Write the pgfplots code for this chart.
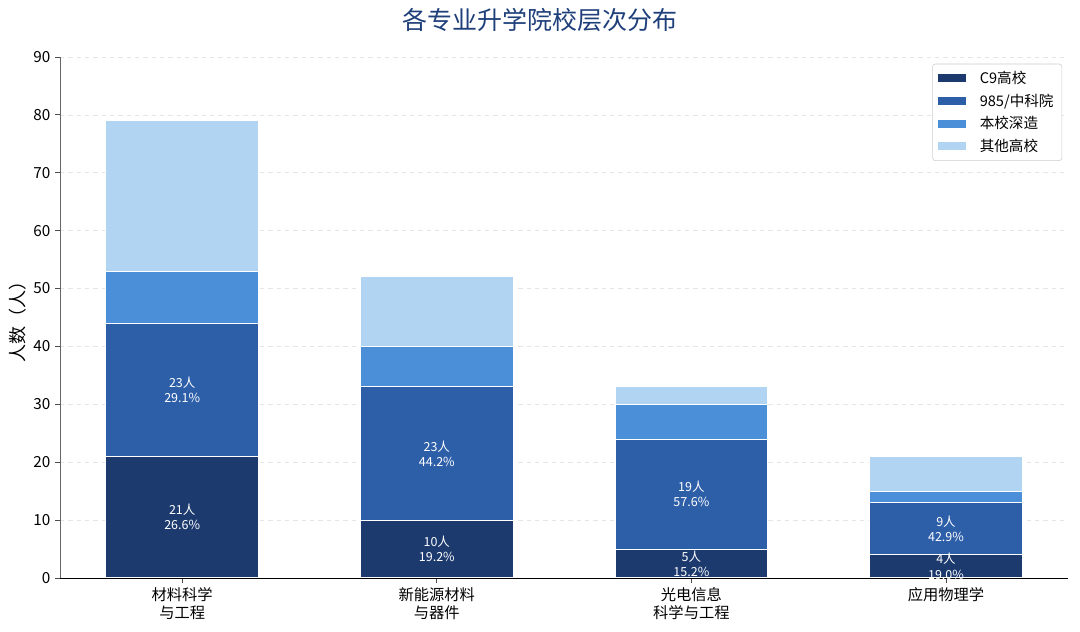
\documentclass[border=0pt]{standalone}
\usepackage{fontspec}
\setmainfont{Noto Sans CJK SC}
\usepackage{pgfplots}
\usepackage{pgfplotstable}
\pgfplotsset{compat=1.18}
\definecolor{cA}{HTML}{1C3A6E}
\definecolor{cB}{HTML}{2D5EA8}
\definecolor{cC}{HTML}{4A8FD8}
\definecolor{cD}{HTML}{B1D4F2}
\definecolor{ctitle}{HTML}{1F3F7A}
\pgfplotstableread{
x c9 b985 own other
0 21 23 9 26
1 10 23 7 12
2 5 19 6 3
3 4 9 2 6
}\data
\begin{document}
\begin{tikzpicture}[lab/.style={text=white, align=center, font=\fontsize{9}{11}\selectfont}]
\path[use as bounding box] (-43.2pt,-38.2pt) rectangle (734.3pt,416.1pt);
\begin{axis}[
  at={(0,0)}, anchor=south west,
  scale only axis, width=725.8pt, height=375.1pt,
  ybar stacked, bar width=0.6,
  xmin=-0.48, xmax=3.48, ymin=0, ymax=90,
  ytick={0,10,...,90},
  xtick={0,1,2,3},
  xticklabels={{材料科学\\与工程},{新能源材料\\与器件},{光电信息\\科学与工程},{应用物理学}},
  xticklabel style={align=center, font=\fontsize{11}{12.5}\selectfont},
  yticklabel style={font=\fontsize{11}{12}\selectfont},
  /pgf/number format/assume math mode=true,
  axis x line*=bottom, axis y line*=left,
  y axis line style={draw=black!60},
  x axis line style={draw=black},
  tick align=outside,
  major tick length=3.5pt,
  every tick/.style={black!70, line width=0.6pt},
  ymajorgrids,
  grid style={dashed, black!10, line width=0.5pt},
  ylabel={人数（人）},
  ylabel style={font=\fontsize{13}{14}\selectfont, yshift=-2pt},
  legend style={at={(0.994,0.987)}, anchor=north east, font=\fontsize{10.5}{12}\selectfont,
    draw=black!20, rounded corners=2pt, row sep=2pt, inner xsep=4pt, inner ysep=3pt},
  legend cell align=left,
  legend image code/.code={\fill[#1, draw=none, sharp corners] (0pt,-2.9pt) rectangle (20pt,2.9pt); \path[draw=none, fill=none] (0pt,0pt) rectangle (28pt,0.1pt);},
]
\addplot[fill=cA, draw=white, line width=0.7pt] table[x=x,y=c9]{\data};
\addplot[fill=cB, draw=white, line width=0.7pt] table[x=x,y=b985]{\data};
\addplot[fill=cC, draw=white, line width=0.7pt] table[x=x,y=own]{\data};
\addplot[fill=cD, draw=white, line width=0.7pt] table[x=x,y=other]{\data};
\legend{C9高校,985/中科院,本校深造,其他高校}
\coordinate (l1) at (axis cs:0,10.5);
\coordinate (l2) at (axis cs:0,32.5);
\coordinate (l3) at (axis cs:1,5);
\coordinate (l4) at (axis cs:1,21.5);
\coordinate (l5) at (axis cs:2,2.5);
\coordinate (l6) at (axis cs:2,14.5);
\coordinate (l7) at (axis cs:3,2);
\coordinate (l8) at (axis cs:3,8.5);
\end{axis}
\node[lab] at (l1) {21人\\26.6\%};
\node[lab] at (l2) {23人\\29.1\%};
\node[lab] at (l3) {10人\\19.2\%};
\node[lab] at (l4) {23人\\44.2\%};
\node[lab] at (l5) {5人\\15.2\%};
\node[lab] at (l6) {19人\\57.6\%};
\node[lab] at (l7) {4人\\19.0\%};
\node[lab] at (l8) {9人\\42.9\%};
\node[font=\fontsize{18}{20}\selectfont, text=ctitle] at (345.6pt,401.7pt) {各专业升学院校层次分布};
\end{tikzpicture}
\end{document}
